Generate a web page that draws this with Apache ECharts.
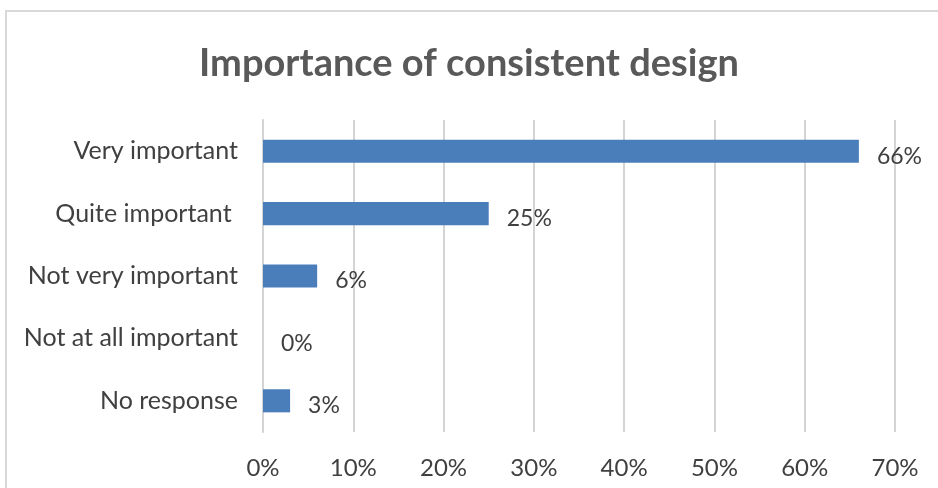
<!DOCTYPE html>
<html>
<head>
<meta charset="utf-8">
<script src="https://cdn.jsdelivr.net/npm/echarts@6/dist/echarts.min.js"></script>
<style>
  html, body { margin: 0; padding: 0; background: #fff; }
  #frame { position: absolute; left: 5px; top: 10px; width: 960px; height: 500px; border: 2px solid #d9d9d9; box-sizing: border-box; }
  #chart { position: absolute; left: 0; top: 0; width: 938px; height: 488px; }
</style>
</head>
<body>
<div id="frame"></div>
<div id="chart"></div>
<script>
// Survey responses, top to bottom
const categories = ['Very important', 'Quite important ', 'Not very important', 'Not at all important', 'No response'];
const percentages = [66, 25, 6, 0, 3];
const tickValues = [0, 10, 20, 30, 40, 50, 60, 70];

const FONT = 'Lato, "Open Sans", sans-serif';
const chart = echarts.init(document.getElementById('chart'), null, { renderer: 'canvas' });

chart.setOption({
  backgroundColor: 'transparent',
  animation: false,
  title: {
    text: 'Importance of consistent design',
    left: 'center',
    top: 40,
    textStyle: { fontFamily: FONT, fontWeight: 'bold', fontSize: 38, color: '#595959' }
  },
  grid: { left: 263, right: 43, top: 120, bottom: 56 },
  xAxis: {
    type: 'value',
    min: 0,
    max: 70,
    interval: 10,
    axisLine: { show: false },
    axisTick: { show: false },
    splitLine: { show: true, lineStyle: { color: '#d4d4d4', width: 2 } },
    axisLabel: {
      margin: 24,
      formatter: v => tickValues.includes(v) ? v + '%' : '',
      fontFamily: FONT, fontSize: 24, color: '#404040'
    }
  },
  yAxis: {
    type: 'category',
    inverse: true,
    data: categories,
    axisLine: { show: true, lineStyle: { color: '#d4d4d4', width: 2 } },
    axisTick: { show: false },
    axisLabel: { margin: 25, fontFamily: FONT, fontSize: 25, color: '#404040' }
  },
  series: [{
    type: 'bar',
    data: percentages,
    barWidth: '37%',
    itemStyle: { color: '#4a7ebb' },
    label: {
      show: true,
      position: 'right',
      distance: 18,
      offset: [0, 5],
      formatter: p => p.value + '%',
      fontFamily: FONT, fontSize: 23, color: '#404040'
    }
  }]
});
</script>
</body>
</html>
